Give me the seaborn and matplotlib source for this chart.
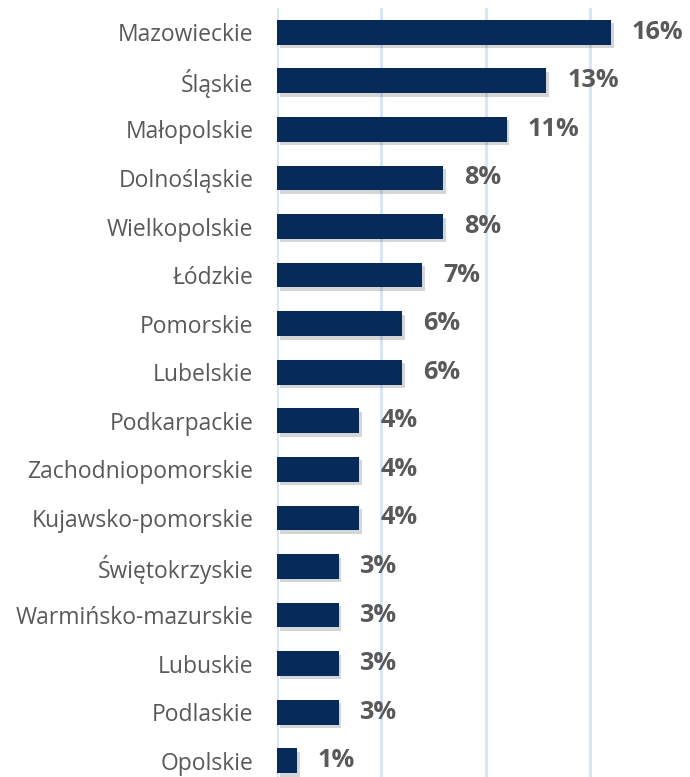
import pandas as pd
import matplotlib
matplotlib.use("Agg")
import matplotlib.pyplot as plt
import matplotlib.patheffects as pe
import seaborn as sns

# data
regions = ["Mazowieckie", "Śląskie", "Małopolskie", "Dolnośląskie", "Wielkopolskie",
           "Łódzkie", "Pomorskie", "Lubelskie", "Podkarpackie", "Zachodniopomorskie",
           "Kujawsko-pomorskie", "Świętokrzyskie", "Warmińsko-mazurskie", "Lubuskie",
           "Podlaskie", "Opolskie"]
shares = [16.0, 12.9, 11.0, 7.95, 7.95, 6.95, 6.0, 6.0, 3.95, 3.95, 3.95,
          2.95, 2.95, 2.95, 2.95, 0.95]
labels = ["16%", "13%", "11%", "8%", "8%", "7%", "6%", "6%", "4%", "4%", "4%",
          "3%", "3%", "3%", "3%", "1%"]

df = pd.DataFrame({"region": regions, "share": shares})

sns.set_theme(style="white")
plt.rcParams["font.family"] = ["Open Sans", "DejaVu Sans"]

fig = plt.figure(figsize=(6.9, 7.77), dpi=100)
ax = fig.add_axes([277 / 690, -8 / 777, 19 * 20.87 / 690, 1.0])

sns.barplot(data=df, x="share", y="region", orient="h", color="#062b5b",
            width=0.51, saturation=1, linewidth=0, ax=ax, zorder=3)

for p in ax.patches:
    p.set_path_effects([pe.SimplePatchShadow(offset=(2, -2.5), alpha=0.22, shadow_rgbFace="#444444"),
                        pe.Normal()])

for i, (v, t) in enumerate(zip(shares, labels)):
    ax.text(v + 1.0, i, t, va="center", ha="left", fontsize=18.2, fontweight="bold",
            color="#595959")

ax.set_xlim(0, 19)
ax.set_ylim(15.5, -0.5)
for x in [0, 5, 10, 15]:
    ax.axvline(x, color="#d6e4f5", lw=2, zorder=1)

ax.set_xlabel("")
ax.set_ylabel("")
ax.set_xticks([])
ax.tick_params(axis="y", length=0, pad=17, labelsize=16.5, labelcolor="#595959")
sns.despine(ax=ax, left=True, bottom=True)

fig.savefig("out.png", dpi=100)
